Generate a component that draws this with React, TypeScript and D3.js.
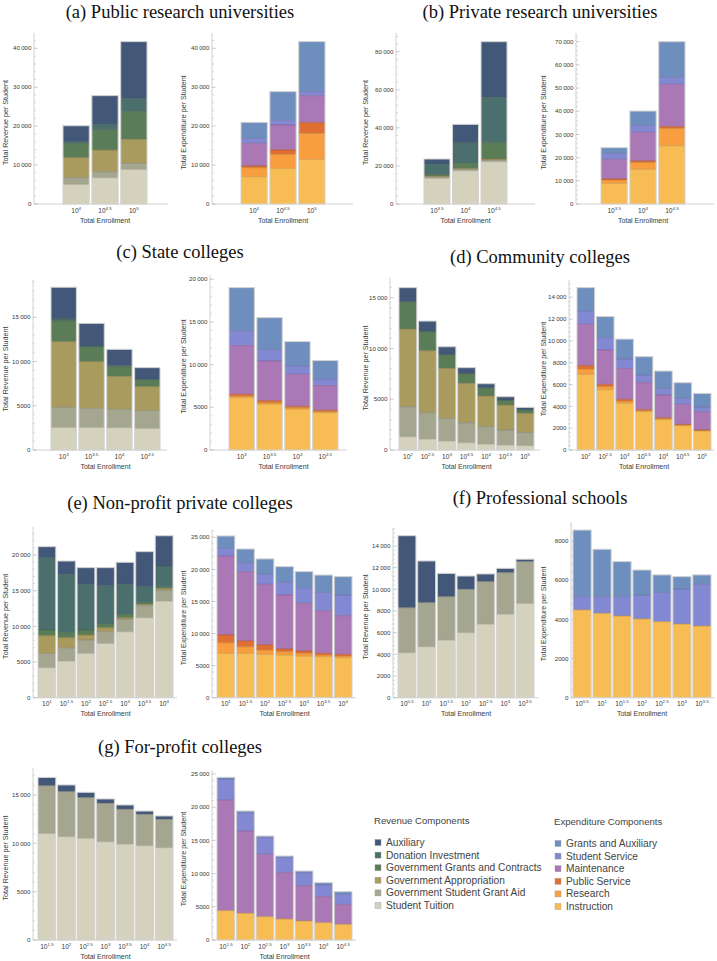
import React from "react";
import * as d3 from "d3";

// ---------- components ----------
const REV_NAMES = ["Student Tuition", "Government Student Grant Aid", "Government Appropriation", "Government Grants and Contracts", "Donation Investment", "Auxiliary"];
const REV_COLORS = ["#d4d1bd", "#a4a690", "#a99a5d", "#5a7d58", "#4a6f6c", "#435779"];
const EXP_NAMES = ["Instruction", "Research", "Public Service", "Maintenance", "Student Service", "Grants and Auxiliary"];
const EXP_COLORS = ["#f8bc55", "#f89e3f", "#e06f34", "#aa78b5", "#8388d2", "#6e8fbd"];

// ---------- (a) Public research universities ----------
const aCats = ["4", "4.5", "5"];
const aRevTuition = [5050, 6770, 8910];
const aRevAid = [1720, 1540, 1540];
const aRevApprop = [5140, 5570, 6170];
const aRevGrants = [3600, 5220, 7110];
const aRevDonation = [510, 1290, 3430];
const aRevAux = [4080, 7450, 14560];
const aExpInstruction = [7020, 9170, 11480];
const aExpResearch = [2310, 3600, 6680];
const aExpPublic = [430, 1110, 2740];
const aExpMaint = [5820, 6420, 6940];
const aExpStudent = [1290, 1200, 1030];
const aExpGrants = [4110, 7370, 12850];

// ---------- (b) Private research universities ----------
const bCats = ["3.5", "4", "4.5"];
const bRevTuition = [13480, 17500, 22230];
const bRevAid = [880, 880, 880];
const bRevApprop = [350, 350, 530];
const bRevGrants = [700, 2630, 8580];
const bRevDonation = [5430, 10850, 23810];
const bRevAux = [2800, 9630, 29230];
const bExpInstruction = [8910, 14950, 25150];
const bExpResearch = [1440, 3020, 7480];
const bExpPublic = [430, 570, 720];
const bExpMaint = [8480, 12360, 18260];
const bExpStudent = [2590, 2880, 3020];
const bExpGrants = [2440, 6320, 15380];

// ---------- (c) State colleges ----------
const cCats = ["3", "3.5", "4", "4.5"];
const cRevTuition = [2560, 2560, 2530, 2450];
const cRevAid = [2260, 2150, 2070, 2000];
const cRevApprop = [7430, 5280, 3730, 2710];
const cRevGrants = [2340, 1620, 1090, 720];
const cRevDonation = [230, 150, 110, 110];
const cRevAux = [3580, 2560, 1850, 1320];
const cExpInstruction = [6130, 5390, 4800, 4380];
const cExpResearch = [200, 160, 160, 120];
const cExpPublic = [200, 230, 160, 160];
const cExpMaint = [5700, 4650, 3750, 2890];
const cExpStudent = [1760, 1330, 980, 780];
const cExpGrants = [5040, 3750, 2850, 2150];

// ---------- (d) Community colleges ----------
const dCats = ["2", "2.5", "3", "3.5", "4", "4.5", "5"];
const dRevTuition = [1310, 1080, 890, 720, 590, 490, 430];
const dRevAid = [2950, 2590, 2230, 1970, 1710, 1480, 1280];
const dRevApprop = [7650, 6110, 4920, 3870, 3020, 2460, 1900];
const dRevGrants = [2630, 1870, 1310, 920, 760, 460, 330];
const dRevDonation = [70, 70, 70, 70, 60, 30, 30];
const dRevAux = [1380, 980, 750, 560, 390, 330, 230];
const dExpInstruction = [6940, 5530, 4310, 3520, 2810, 2230, 1740];
const dExpResearch = [490, 280, 180, 90, 60, 60, 60];
const dExpPublic = [310, 210, 150, 90, 90, 60, 30];
const dExpMaint = [3790, 3150, 2840, 2480, 2080, 1830, 1680];
const dExpStudent = [1220, 1130, 860, 700, 610, 550, 430];
const dExpGrants = [2140, 1930, 1830, 1680, 1590, 1440, 1250];

// ---------- (e) Non-profit private colleges ----------
const eCats = ["1", "1.5", "2", "2.5", "3", "3.5", "4"];
const eRevTuition = [4210, 5140, 6220, 7620, 9250, 11220, 13550];
const eRevAid = [2010, 1870, 1870, 1640, 1780, 1680, 1540];
const eRevApprop = [2480, 1400, 700, 560, 190, 190, 230];
const eRevGrants = [790, 700, 700, 470, 470, 230, 230];
const eRevDonation = [10140, 8180, 6400, 5420, 4210, 2240, 2900];
const eRevAux = [1540, 1870, 2340, 2520, 3080, 4910, 4250];
const eExpInstruction = [6910, 6910, 6760, 6650, 6500, 6390, 6240];
const eExpResearch = [1660, 1040, 680, 520, 420, 260, 260];
const eExpPublic = [1200, 880, 780, 420, 360, 260, 260];
const eExpMaint = [12320, 10810, 9460, 8420, 7430, 6650, 6030];
const eExpStudent = [1200, 1300, 1610, 1980, 2440, 2860, 3220];
const eExpGrants = [1920, 2240, 2340, 2440, 2500, 2700, 2860];

// ---------- (f) Professional schools ----------
const fCats = ["0.5", "1", "1.5", "2", "2.5", "3", "3.5"];
const fRevTuition = [4150, 4710, 5320, 6000, 6800, 7720, 8710];
const fRevAid = [4150, 4060, 4000, 4000, 3910, 3820, 3850];
const fRevApprop = [0, 0, 0, 0, 0, 0, 0];
const fRevGrants = [0, 0, 0, 0, 0, 0, 0];
const fRevDonation = [0, 0, 0, 0, 0, 0, 0];
const fRevAux = [6650, 3850, 2150, 1230, 710, 400, 220];
const fExpInstruction = [4480, 4310, 4170, 4020, 3880, 3760, 3660];
const fExpResearch = [0, 0, 0, 0, 0, 0, 0];
const fExpPublic = [0, 0, 0, 0, 0, 0, 0];
const fExpMaint = [0, 0, 0, 0, 0, 0, 0];
const fExpStudent = [680, 850, 990, 1220, 1500, 1790, 2130];
const fExpGrants = [3400, 2420, 1790, 1280, 890, 630, 480];

// ---------- (g) For-profit colleges ----------
const gCats = ["1.5", "2", "2.5", "3", "3.5", "4", "4.5"];
const gRevTuition = [11030, 10690, 10520, 10170, 9930, 9760, 9550];
const gRevAid = [4930, 4660, 4210, 3970, 3590, 3240, 2930];
const gRevApprop = [0, 0, 0, 0, 0, 0, 0];
const gRevGrants = [0, 0, 0, 0, 0, 0, 0];
const gRevDonation = [0, 0, 0, 0, 0, 0, 0];
const gRevAux = [860, 690, 550, 450, 450, 340, 350];
const gExpInstruction = [4420, 4020, 3510, 3160, 2860, 2610, 2360];
const gExpResearch = [0, 0, 0, 0, 0, 0, 0];
const gExpPublic = [0, 0, 0, 0, 0, 0, 0];
const gExpMaint = [16670, 12400, 9390, 6980, 5320, 3920, 3010];
const gExpStudent = [3160, 2760, 2510, 2260, 1960, 1760, 1510];
const gExpGrants = [250, 250, 250, 250, 250, 350, 400];

// ---------- layout ----------
type Frame = { ax: number; bx0: number; bx1: number; end: number; y0: number; refVal: number; refPix: number; top: number; step: number; ylx: number };

const PANELS = [
  {
    title: "(a) Public research universities", tx: 180, ty: 17.5, cats: aCats,
    rev: [aRevTuition, aRevAid, aRevApprop, aRevGrants, aRevDonation, aRevAux],
    exp: [aExpInstruction, aExpResearch, aExpPublic, aExpMaint, aExpStudent, aExpGrants],
    L: { ax: 34, bx0: 63, bx1: 147, end: 168, y0: 204, refVal: 40000, refPix: 48.3, top: 33, step: 10000, ylx: 5 },
    R: { ax: 212, bx0: 241, bx1: 325, end: 353, y0: 204, refVal: 40000, refPix: 48.3, top: 33, step: 10000, ylx: 183 },
  },
  {
    title: "(b) Private research universities", tx: 540, ty: 17.5, cats: bCats,
    rev: [bRevTuition, bRevAid, bRevApprop, bRevGrants, bRevDonation, bRevAux],
    exp: [bExpInstruction, bExpResearch, bExpPublic, bExpMaint, bExpStudent, bExpGrants],
    L: { ax: 396, bx0: 424, bx1: 507, end: 535, y0: 204, refVal: 80000, refPix: 51.7, top: 33, step: 20000, ylx: 365 },
    R: { ax: 576, bx0: 601, bx1: 685, end: 714, y0: 204, refVal: 70000, refPix: 41.7, top: 33, step: 10000, ylx: 543 },
  },
  {
    title: "(c) State colleges", tx: 180, ty: 257.5, cats: cCats,
    rev: [cRevTuition, cRevAid, cRevApprop, cRevGrants, cRevDonation, cRevAux],
    exp: [cExpInstruction, cExpResearch, cExpPublic, cExpMaint, cExpStudent, cExpGrants],
    L: { ax: 33, bx0: 51, bx1: 160, end: 167, y0: 450, refVal: 15000, refPix: 317.3, top: 280, step: 5000, ylx: 5 },
    R: { ax: 210, bx0: 229, bx1: 338, end: 347, y0: 450, refVal: 20000, refPix: 279.3, top: 275, step: 5000, ylx: 183 },
  },
  {
    title: "(d) Community colleges", tx: 540, ty: 262.5, cats: dCats,
    rev: [dRevTuition, dRevAid, dRevApprop, dRevGrants, dRevDonation, dRevAux],
    exp: [dExpInstruction, dExpResearch, dExpPublic, dExpMaint, dExpStudent, dExpGrants],
    L: { ax: 390, bx0: 399, bx1: 534, end: 540, y0: 450, refVal: 15000, refPix: 297.7, top: 278, step: 5000, ylx: 365 },
    R: { ax: 569, bx0: 577, bx1: 711, end: 714, y0: 450, refVal: 14000, refPix: 297.3, top: 280, step: 2000, ylx: 543 },
  },
  {
    title: "(e) Non-profit private colleges", tx: 180, ty: 508.5, cats: eCats,
    rev: [eRevTuition, eRevAid, eRevApprop, eRevGrants, eRevDonation, eRevAux],
    exp: [eExpInstruction, eExpResearch, eExpPublic, eExpMaint, eExpStudent, eExpGrants],
    L: { ax: 33, bx0: 38, bx1: 173, end: 177, y0: 697.7, refVal: 20000, refPix: 555, top: 527, step: 5000, ylx: 5 },
    R: { ax: 212, bx0: 217, bx1: 352, end: 356, y0: 697.7, refVal: 25000, refPix: 537.3, top: 530, step: 5000, ylx: 183 },
  },
  {
    title: "(f) Professional schools", tx: 540, ty: 503.5, cats: fCats,
    rev: [fRevTuition, fRevAid, fRevApprop, fRevGrants, fRevDonation, fRevAux],
    exp: [fExpInstruction, fExpResearch, fExpPublic, fExpMaint, fExpStudent, fExpGrants],
    L: { ax: 393, bx0: 398, bx1: 534, end: 538, y0: 697.7, refVal: 14000, refPix: 546, top: 528, step: 2000, ylx: 365 },
    R: { ax: 571, bx0: 573, bx1: 711, end: 714, y0: 697.7, refVal: 8000, refPix: 541, top: 522, step: 2000, ylx: 543 },
  },
  {
    title: "(g) For-profit colleges", tx: 180, ty: 752.5, cats: gCats,
    rev: [gRevTuition, gRevAid, gRevApprop, gRevGrants, gRevDonation, gRevAux],
    exp: [gExpInstruction, gExpResearch, gExpPublic, gExpMaint, gExpStudent, gExpGrants],
    L: { ax: 33, bx0: 38, bx1: 173, end: 177, y0: 940, refVal: 15000, refPix: 795, top: 768, step: 5000, ylx: 5 },
    R: { ax: 212, bx0: 217, bx1: 352, end: 356, y0: 940, refVal: 25000, refPix: 774, top: 770, step: 5000, ylx: 183 },
  },
];

const SANS = "'Liberation Sans', Arial, sans-serif";
const AXIS = "#c4c4c4";

function fmt(v: number) {
  if (v >= 10000) return d3.format(",")(v).replace(/,/g, "\u2009");
  return String(v);
}

function BarPanel({ F, cats, series, colors, ylabel }: { F: Frame; cats: string[]; series: number[][]; colors: string[]; ylabel: string }) {
  const keys = series.map((_, k) => "k" + k);
  const rows = cats.map((c, i) => {
    const r: any = { cat: c };
    series.forEach((s, k) => (r["k" + k] = s[i]));
    return r;
  });
  const stacked = d3.stack<any>().keys(keys)(rows);
  const x = d3.scaleBand().domain(cats).range([F.bx0, F.bx1]).paddingInner(0.09).paddingOuter(0);
  const y = d3.scaleLinear().domain([0, F.refVal]).range([F.y0, F.refPix]);
  const maxV = y.invert(F.top);
  const nMajor = Math.floor(maxV / F.step + 1e-9);
  const majors = d3.range(0, nMajor + 1).map((i) => i * F.step);
  const minorStep = F.step / 5;
  const nMinor = Math.floor(maxV / minorStep + 1e-9);
  const minors = d3.range(0, nMinor + 1).filter((i) => i % 5 !== 0).map((i) => i * minorStep);
  const totals = cats.map((_, i) => d3.sum(series, (s) => s[i]));
  const midX = (F.bx0 + F.bx1) / 2;
  return (
    <g>
      <line x1={F.ax} x2={F.ax} y1={F.top} y2={F.y0} stroke={AXIS} strokeWidth={0.8} />
      <line x1={F.ax} x2={F.end} y1={F.y0} y2={F.y0} stroke={AXIS} strokeWidth={0.8} />
      {minors.map((v) => (
        <line key={"mi" + v} x1={F.ax} x2={F.ax + 2} y1={y(v)} y2={y(v)} stroke={AXIS} strokeWidth={0.6} />
      ))}
      {majors.map((v) => (
        <g key={"ma" + v}>
          <line x1={F.ax} x2={F.ax + 3.5} y1={y(v)} y2={y(v)} stroke="#b0b0b0" strokeWidth={0.7} />
          <text x={F.ax - 2.5} y={y(v)} dy="0.35em" textAnchor="end" fontSize={6.2} fontFamily={SANS} fill="#3a3a3a">
            {fmt(v)}
          </text>
        </g>
      ))}
      {stacked.map((layer, k) =>
        layer.map((d, i) => {
          const h = y(d[0]) - y(d[1]);
          if (h <= 0) return null;
          return <rect key={"r" + k + "_" + i} x={x(cats[i])} width={x.bandwidth()} y={y(d[1])} height={h} fill={colors[k]} />;
        })
      )}
      {stacked.map((layer, k) =>
        layer.map((d, i) => {
          const h = y(d[0]) - y(d[1]);
          if (h <= 0 || d[1] >= totals[i] - 1e-6) return null;
          const c = d3.color(colors[k])!.darker(0.7).formatHex();
          return (
            <line key={"s" + k + "_" + i} x1={x(cats[i])} x2={(x(cats[i]) as number) + x.bandwidth()} y1={y(d[1])} y2={y(d[1])} stroke={c} strokeWidth={0.8} strokeOpacity={0.8} />
          );
        })
      )}
      {cats.map((c, i) => (
        <rect key={"o" + c} x={x(c)} width={x.bandwidth()} y={y(totals[i])} height={F.y0 - y(totals[i])} fill="none" stroke="#d2d2d2" strokeWidth={1} />
      ))}
      {cats.map((c) => (
        <text key={"xt" + c} x={(x(c) as number) + x.bandwidth() / 2} y={F.y0 + 8.5} textAnchor="middle" fontSize={6.6} fontFamily={SANS} fill="#3a3a3a">
          10
          <tspan fontSize={4.4} dy={-3}>
            {c}
          </tspan>
        </text>
      ))}
      <text x={midX} y={F.y0 + 18.5} textAnchor="middle" fontSize={7} fontFamily={SANS} fill="#3a3a3a">
        Total Enrollment
      </text>
      <text transform={`translate(${F.ylx},${(F.top + F.y0) / 2 + 4}) rotate(-90)`} textAnchor="middle" dominantBaseline="central" fontSize={7.2} fontFamily={SANS} fill="#3a3a3a">
        {ylabel}
      </text>
    </g>
  );
}

function Legend({ x, y, header, names, colors }: { x: number; y: number; header: string; names: string[]; colors: string[] }) {
  const order = names.map((_, i) => names.length - 1 - i);
  return (
    <g>
      <text x={x - 1} y={y} fontSize={9.6} fontFamily={SANS} fill="#444">
        {header}
      </text>
      {order.map((k, j) => (
        <g key={names[k]} transform={`translate(${x},${y + 18.5 + j * 12.6})`}>
          <rect x={0} y={-3} width={6} height={6} fill={colors[k]} stroke="#999" strokeWidth={0.4} />
          <text x={11} y={0} dy="0.35em" fontSize={10.2} fontFamily={SANS} fill="#444">
            {names[k]}
          </text>
        </g>
      ))}
    </g>
  );
}

export default function App() {
  return (
    <svg width={717} height={961} style={{ position: "absolute", left: 0, top: 0, background: "#fff" }}>
      <rect width={717} height={961} fill="#fff" />
      {PANELS.map((p) => (
        <g key={p.title}>
          <text x={p.tx} y={p.ty} textAnchor="middle" fontSize={18.5} fontFamily="'Liberation Serif', 'DejaVu Serif', serif" fill="#111">
            {p.title}
          </text>
          <BarPanel F={p.L} cats={p.cats} series={p.rev} colors={REV_COLORS} ylabel="Total Revenue per Student" />
          <BarPanel F={p.R} cats={p.cats} series={p.exp} colors={EXP_COLORS} ylabel="Total Expenditure per Student" />
        </g>
      ))}
      <Legend x={375} y={824} header={"Revenue  Components"} names={REV_NAMES} colors={REV_COLORS} />
      <Legend x={555} y={825} header={"Expenditure  Components"} names={EXP_NAMES} colors={EXP_COLORS} />
    </svg>
  );
}
